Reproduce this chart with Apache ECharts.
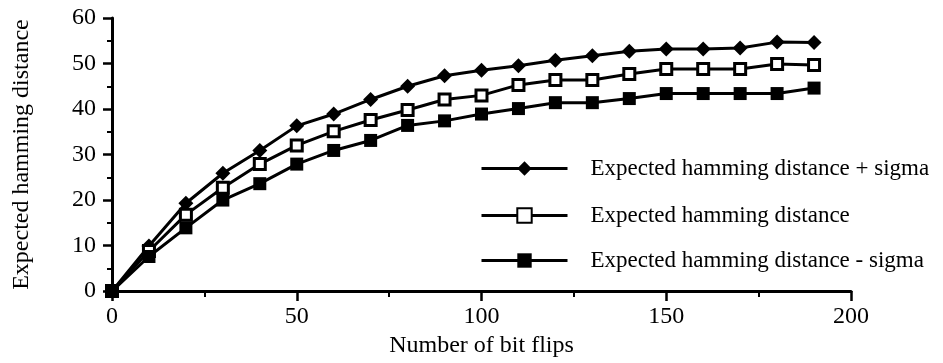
<!DOCTYPE html>
<html>
<head>
<meta charset="utf-8">
<script src="https://cdn.jsdelivr.net/npm/echarts@6/dist/echarts.min.js"></script>
<style>
html,body{margin:0;padding:0;background:#fff;}
#chart{width:943px;height:363px;}
</style>
</head>
<body>
<div id="chart"></div>
<script>
const bitFlips = [0,10,20,30,40,50,60,70,80,90,100,110,120,130,140,150,160,170,180,190];
const plusSigma = [0,9.9,19.3,25.9,30.9,36.3,38.9,42.1,45.0,47.3,48.5,49.5,50.7,51.7,52.7,53.2,53.2,53.4,54.7,54.6];
const expected = [0,8.8,16.8,22.7,27.9,32.0,35.1,37.6,39.8,42.1,43.0,45.3,46.4,46.4,47.7,48.8,48.8,48.8,49.9,49.7];
const minusSigma = [0,7.6,13.9,20.0,23.6,27.9,30.9,33.1,36.4,37.4,38.9,40.1,41.4,41.4,42.3,43.4,43.4,43.4,43.4,44.6];
const seriesNames = ['Expected hamming distance + sigma','Expected hamming distance','Expected hamming distance - sigma'];
const xTitle = 'Number of bit flips';
const yTitle = 'Expected hamming distance';

const FONT = 'Liberation Serif';
const pair = (ys) => bitFlips.map((x,i)=>[x,ys[i]]);
const chart = echarts.init(document.getElementById('chart'), null, {renderer:'canvas'});

const lineStyle = {color:'#000', width:3};
const mkSeries = (name, data, symbol, size, fill) => ({
  name, type:'line', data: pair(data), symbol, symbolSize:size,
  lineStyle, itemStyle:{color:fill, borderColor:'#000', borderWidth: fill==='#fff'?3:0},
  emphasis:{disabled:true}, animation:false, z:3
});
const legendBase = (name, top) => ({
  data:[name], left:475, top, orient:'vertical',
  itemWidth:86, itemHeight:18,
  lineStyle:{width:3, color:'#000'},
  textStyle:{fontFamily:FONT, fontSize:23, color:'#000', padding:[0,0,0,18]},
  selectedMode:false
});

chart.setOption({
  backgroundColor:'#fff',
  animation:false,
  grid:{left:112, right:92, top:18, bottom:67, containLabel:false},
  legend:[
    legendBase(seriesNames[0], 152),
    legendBase(seriesNames[1], 199),
    legendBase(seriesNames[2], 244)
  ],
  xAxis:{
    type:'value', min:0, max:200, interval:50,
    name:xTitle, nameLocation:'middle', nameGap:40,
    nameTextStyle:{fontFamily:FONT, fontSize:24, color:'#000'},
    axisLine:{show:true, lineStyle:{color:'#000', width:3}},
    axisTick:{show:true, inside:false, length:10, lineStyle:{color:'#000', width:2.5}},
    minorTick:{show:true, splitNumber:2, length:6, lineStyle:{color:'#000', width:2}},
    axisLabel:{fontFamily:FONT, fontSize:24, color:'#000', margin:14},
    splitLine:{show:false}
  },
  yAxis:{
    type:'value', min:0, max:60, interval:10,
    name:yTitle, nameLocation:'middle', nameGap:78, nameRotate:90,
    nameTextStyle:{fontFamily:FONT, fontSize:24, color:'#000'},
    axisLine:{show:true, lineStyle:{color:'#000', width:3}},
    axisTick:{show:true, inside:false, length:9, lineStyle:{color:'#000', width:2.5}},
    minorTick:{show:true, splitNumber:2, length:5, lineStyle:{color:'#000', width:2}},
    axisLabel:{fontFamily:FONT, fontSize:24, color:'#000', margin:16},
    splitLine:{show:false}
  },
  series:[
    mkSeries(seriesNames[0], plusSigma, 'diamond', 15, '#000'),
    mkSeries(seriesNames[1], expected, 'rect', 11, '#fff'),
    mkSeries(seriesNames[2], minusSigma, 'rect', 13, '#000')
  ]
});
</script>
</body>
</html>
